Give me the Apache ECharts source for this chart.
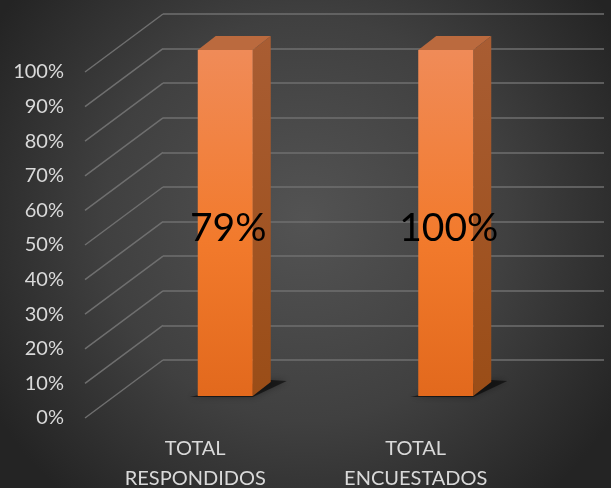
<!DOCTYPE html>
<html lang="es">
<head>
    <meta charset="UTF-8">
    <title>Total respondidos / encuestados</title>
    <script src="https://cdn.jsdelivr.net/npm/echarts@6/dist/echarts.min.js"></script>
</head>
<style>
    html,body{
        padding: 0;
        margin: 0;
    }
</style>
<body>
<div id="chart" style="width: 611px;height:488px;"></div>
</body>
<script type="text/javascript">
    // datos del grafico
    var categorias = ['TOTAL RESPONDIDOS', 'TOTAL ENCUESTADOS'];
    // en el original las dos barras llegan al 100%
    var alturas = [1, 1];
    var etiquetas = ['79%', '100%'];
    var ticksY = [0, 0.1, 0.2, 0.3, 0.4, 0.5, 0.6, 0.7, 0.8, 0.9, 1];

    var FUENTE = 'Lato, "Noto Sans", sans-serif';
    // desplazamiento de la profundidad (pared trasera -> borde frontal del suelo)
    var PROF_X = -78, PROF_Y = 58;

    var myChart = echarts.init(document.getElementById('chart'));

    /**
     * lineas diagonales del lateral izquierdo
     */
    function renderLado(params, api) {
        var cs = params.coordSys;
        var p = api.coord([0, api.value(1)]);
        return {
            type: 'line',
            shape: {x1: cs.x, y1: p[1], x2: cs.x + PROF_X, y2: p[1] + PROF_Y},
            style: {stroke: '#6f6f6f', lineWidth: 1.5}
        };
    }

    /**
     * barra 3D: cara frontal, lateral, tapa, sombra y etiqueta
     */
    function renderBarra(params, api) {
        var idx = api.value(0);
        var top = api.coord([idx, api.value(1)]);
        var base = api.coord([idx, 0]);
        var dx = -48, dy = 36;       // posicion de la cara frontal
        var w = 55, sx = 18, sy = -14; // ancho y fondo de la barra
        var x0 = top[0] + dx - w / 2, x1 = x0 + w;
        var yt = top[1] + dy, yb = base[1] + dy;
        return {
            type: 'group',
            children: [
                {
                    type: 'polygon',
                    shape: {points: [[x0 - 8, yb + 1], [x1, yb + 1], [x1 + sx + 16, yb + sy - 1], [x1 + sx, yb + sy - 2]]},
                    style: {fill: 'rgba(0,0,0,0.55)', shadowBlur: 6, shadowColor: 'rgba(0,0,0,0.6)'}
                },
                {
                    type: 'polygon',
                    shape: {points: [[x1, yt], [x1 + sx, yt + sy], [x1 + sx, yb + sy], [x1, yb]]},
                    style: {
                        fill: new echarts.graphic.LinearGradient(0, 0, 0, 1, [
                            {offset: 0, color: '#a95d33'},
                            {offset: 1, color: '#9a4d17'}
                        ])
                    }
                },
                {
                    type: 'polygon',
                    shape: {points: [[x0, yt], [x0 + sx, yt + sy], [x1 + sx, yt + sy], [x1, yt]]},
                    style: {fill: '#bb6a3e'}
                },
                {
                    type: 'rect',
                    shape: {x: x0, y: yt, width: w, height: yb - yt},
                    style: {
                        fill: new echarts.graphic.LinearGradient(0, 0, 0, 1, [
                            {offset: 0, color: '#f08b58'},
                            {offset: 0.55, color: '#f27a2c'},
                            {offset: 1, color: '#e2691d'}
                        ])
                    }
                },
                {
                    type: 'text',
                    style: {
                        x: (x0 + x1) / 2 + 3, y: (yt + yb) / 2 + 5,
                        text: etiquetas[idx],
                        fill: '#000000',
                        font: '39px ' + FUENTE,
                        align: 'center', verticalAlign: 'middle'
                    }
                }
            ]
        };
    }

    var option = {
        backgroundColor: {
            type: 'radial', x: 0.5, y: 0.45, r: 0.75,
            colorStops: [
                {offset: 0, color: '#535353'},
                {offset: 0.55, color: '#404040'},
                {offset: 1, color: '#242424'}
            ]
        },
        grid: [
            {left: 163, right: 7, top: 14, bottom: 128, outerBoundsMode: 'none'},
            {left: 85, right: 85, top: 72, bottom: 70, outerBoundsMode: 'none'}
        ],
        xAxis: [
            {
                type: 'category', gridIndex: 0, data: categorias,
                axisLine: {show: false}, axisTick: {show: false}, axisLabel: {show: false}
            },
            {
                type: 'category', gridIndex: 1, data: categorias,
                axisLine: {show: false}, axisTick: {show: false},
                axisLabel: {
                    margin: 16, color: '#d9d9d9', fontSize: 20, fontFamily: FUENTE, lineHeight: 30,
                    formatter: function (v) { return v.replace(' ', '\n'); }
                }
            }
        ],
        yAxis: [
            {
                type: 'value', gridIndex: 0, min: 0, max: 1, interval: 0.1,
                axisLabel: {show: false},
                splitLine: {lineStyle: {color: '#6f6f6f', width: 1.5}}
            },
            {
                type: 'value', gridIndex: 1, min: 0, max: 1, interval: 0.1,
                splitLine: {show: false},
                axisLabel: {
                    margin: 21, color: '#d9d9d9', fontSize: 20, fontFamily: FUENTE,
                    formatter: function (v) { return Math.round(v * 100) + '%'; }
                }
            }
        ],
        series: [
            {
                type: 'custom', xAxisIndex: 0, yAxisIndex: 0, silent: true,
                renderItem: renderLado,
                data: ticksY.map(function (v) { return [0, v]; })
            },
            {
                type: 'custom', xAxisIndex: 0, yAxisIndex: 0, silent: true,
                renderItem: renderBarra,
                data: alturas.map(function (v, i) { return [i, v]; })
            }
        ]
    };

    myChart.setOption(option);
</script>
</html>
